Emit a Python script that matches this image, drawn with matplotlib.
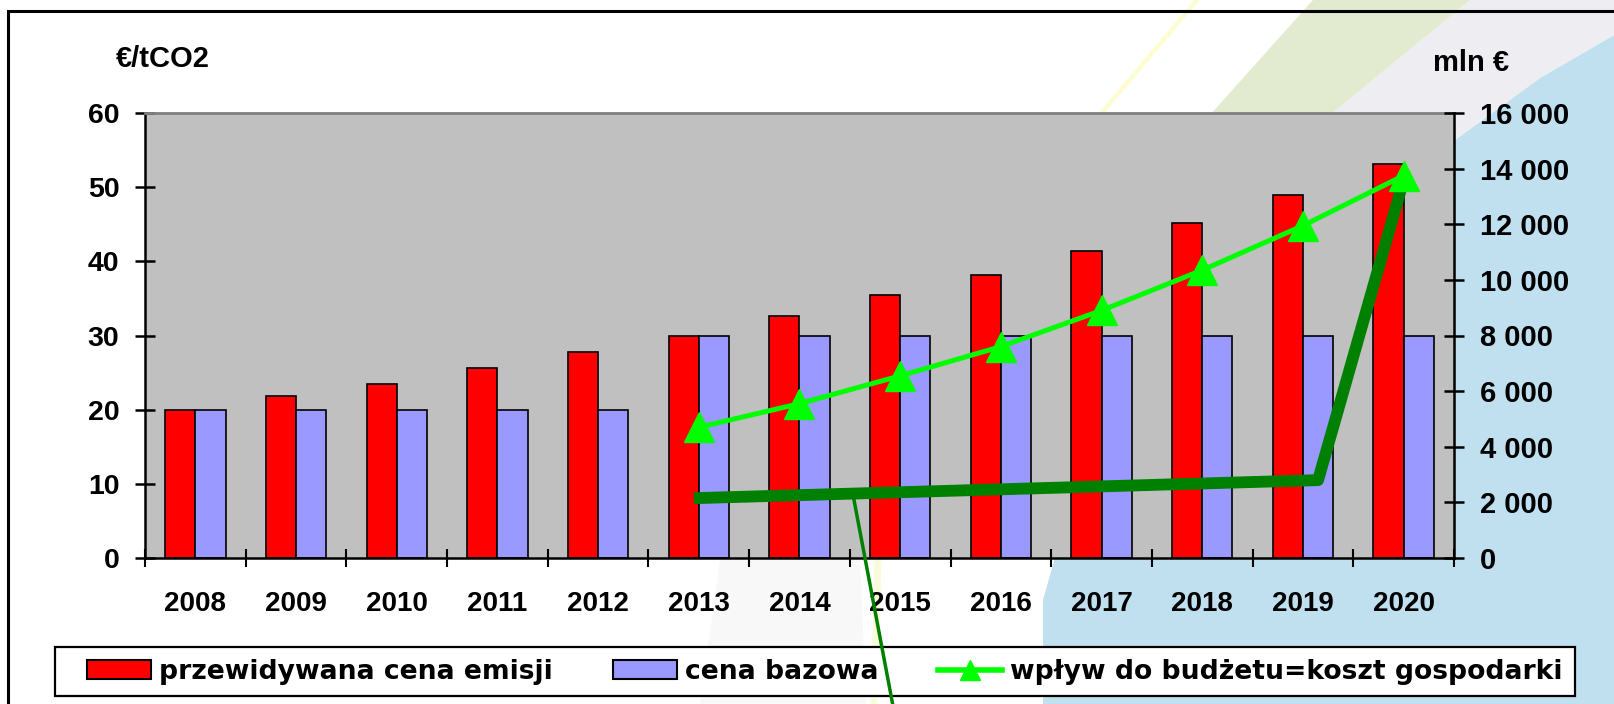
import numpy as np
import matplotlib.pyplot as plt
from matplotlib.lines import Line2D
from matplotlib.patches import Patch, Polygon, Rectangle

plt.rcParams['font.family'] = ['Liberation Sans', 'DejaVu Sans']
plt.rcParams['font.weight'] = 'bold'

years = [2008, 2009, 2010, 2011, 2012, 2013, 2014, 2015, 2016, 2017, 2018, 2019, 2020]
cena_emisji = [20, 21.9, 23.4, 25.6, 27.8, 30, 32.6, 35.4, 38.2, 41.4, 45.2, 49.0, 53.1]
cena_bazowa = [20, 20, 20, 20, 20, 30, 30, 30, 30, 30, 30, 30, 30]

wplyw_years = [2013, 2014, 2015, 2016, 2017, 2018, 2019, 2020]
wplyw = [4700, 5550, 6550, 7600, 8900, 10350, 11950, 13750]

# hand drawn dark green overlay (mln EUR on right axis)
kreska_x = [2012.95, 2019.15, 2020.0]
kreska_y = [2150, 2800, 13600]
wskaznik_x = [2014.53, 2014.98]
wskaznik_y = [2300, -6300]

W, H = 1614, 704


def fx(x):
    return x / W


def fy(y):
    return 1 - y / H


fig = plt.figure(figsize=(W / 100, H / 100), dpi=100)

# background decoration
def bg(points, color, z=-5):
    fig.add_artist(Polygon([(fx(a), fy(b)) for a, b in points], closed=True,
                           transform=fig.transFigure, facecolor=color,
                           edgecolor='none', zorder=z))

bg([(1614, 35), (1540, 78), (1455, 140), (1300, 300), (1150, 440), (1060, 540),
    (1043, 600), (1043, 704), (1614, 704)], '#c0e0f0')
bg([(1470, 0), (1614, 0), (1614, 35), (1540, 78), (1455, 140), (1330, 115)], '#eeeef2')
bg([(1313, 0), (1470, 0), (1330, 115), (1210, 115)], '#e2ebcf')
bg([(720, 560), (860, 560), (866, 704), (700, 704)], '#f8f8f8')
fig.add_artist(Line2D([fx(1197), fx(1100)], [fy(0), fy(115)], transform=fig.transFigure,
                      color='#fdfdd0', lw=3, zorder=-4))
fig.add_artist(Line2D([fx(878), fx(874)], [fy(560), fy(704)], transform=fig.transFigure,
                      color='#fbfbdc', lw=5, zorder=-4))

ax = fig.add_axes([fx(145), fy(558), (1454 - 145) / W, (558 - 113) / H])
ax.set_facecolor('#c0c0c0')
x = np.array(years)
bw = 0.3
ax.bar(x - bw / 2, cena_emisji, bw, color='#ff0000', edgecolor='black', linewidth=1.2, zorder=2)
ax.bar(x + bw / 2, cena_bazowa, bw, color='#9999ff', edgecolor='black', linewidth=1.2, zorder=2)
ax.set_xlim(2007.5, 2020.5)
ax.set_ylim(0, 60)
ax.set_yticks(range(0, 61, 10))
ax.set_xticks(np.arange(2007.5, 2021, 1))
ax.set_xticklabels([])
ax.set_xticks(years, minor=True)
ax.set_xticklabels([str(y) for y in years], minor=True)
ax.tick_params(axis='y', direction='inout', length=14, width=1.8, labelsize=20.5, pad=11.5)
ax.tick_params(axis='x', which='major', direction='inout', length=13, width=1.5)
ax.tick_params(axis='x', which='minor', length=0, labelsize=20, pad=24)
for s in ['left', 'bottom']:
    ax.spines[s].set_linewidth(1.8)
ax.spines['top'].set_color('#808080')
ax.spines['top'].set_linewidth(2)
ax.spines['right'].set_visible(False)

ax2 = ax.twinx()
ax2.set_ylim(0, 16000)
ax2.set_yticks(range(0, 16001, 2000))
ax2.set_yticklabels(['0' if v == 0 else f'{v // 1000} 000' for v in range(0, 16001, 2000)])
ax2.tick_params(axis='y', direction='inout', length=14, width=1.8, labelsize=21, pad=11.5)
for s in ['left', 'top', 'bottom']:
    ax2.spines[s].set_visible(False)
ax2.spines['right'].set_linewidth(1.8)
ax2.plot(kreska_x, kreska_y, color='#008000', lw=8.5, solid_capstyle='butt', zorder=2)
ax2.plot(wplyw_years, wplyw, color='#00ff00', lw=3.6, marker='^', markersize=21, zorder=3)

fig.text(fx(163), fy(59), '€/tCO2', ha='center', va='center', fontsize=21)
fig.text(fx(1471), fy(63), 'mln €', ha='center', va='center', fontsize=21)

# legend box
fig.add_artist(Rectangle((fx(55), fy(696)), (1575 - 55) / W, (696 - 647) / H,
                         transform=fig.transFigure, facecolor='white',
                         edgecolor='black', lw=1.6, zorder=4))
handles = [Patch(facecolor='#ff0000', edgecolor='black', linewidth=1.5),
           Patch(facecolor='#9999ff', edgecolor='black', linewidth=1.5),
           Line2D([], [], color='#00ff00', lw=4, marker='^', markersize=14)]
labels = ['przewidywana cena emisji', 'cena bazowa', 'wpływ do budżetu=koszt gospodarki']
fs = 19.2
leg = fig.legend(handles, labels, loc='center left', ncol=3,
                 bbox_to_anchor=(fx(87), fy(672)), borderaxespad=0, borderpad=0,
                 frameon=False, handlelength=64 / (fs * 100 / 72), handleheight=0.68,
                 handletextpad=0.3, columnspacing=2.25,
                 prop={'family': 'DejaVu Sans', 'weight': 'bold', 'size': fs})

# pointer line from the overlay down through the legend
fig.add_artist(Line2D(wskaznik_x, wskaznik_y, transform=ax2.transData,
                      color='#008000', lw=2.5, zorder=10))

# slide frame
fig.add_artist(Rectangle((fx(7.5), -0.2), 1.2, fy(10.7) + 0.2, transform=fig.transFigure,
                         fill=False, edgecolor='black', lw=2.2, zorder=11))

fig.savefig('out.png', dpi=100)
